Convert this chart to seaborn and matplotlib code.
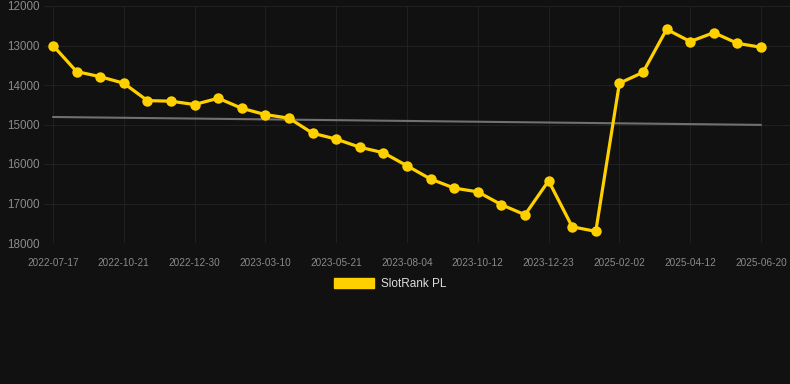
import matplotlib
matplotlib.use("Agg")
import matplotlib.pyplot as plt
import matplotlib.patches as mpatches
import seaborn as sns
import numpy as np
import pandas as pd

dates = [
    "2022-07-17", "2022-08-18", "2022-09-19", "2022-10-21", "2022-11-13",
    "2022-12-06", "2022-12-30", "2023-01-22", "2023-02-14", "2023-03-10",
    "2023-04-03", "2023-04-27", "2023-05-21", "2023-06-15", "2023-07-10",
    "2023-08-04", "2023-08-27", "2023-09-19", "2023-10-12", "2023-11-05",
    "2023-11-29", "2023-12-23", "2024-05-10", "2024-09-20", "2025-02-02",
    "2025-02-25", "2025-03-20", "2025-04-12", "2025-05-05", "2025-05-28",
    "2025-06-20",
]
rank = [
    13000, 13660, 13790, 13955, 14395, 14410, 14495, 14335, 14590, 14750,
    14840, 15220, 15370, 15575, 15715, 16045, 16380, 16610, 16705, 17030,
    17285, 16425, 17590, 17705, 13955, 13680, 12590, 12900, 12675, 12945,
    13045,
]
trend_ends = [14810, 15010]
y_ticks = [12000, 13000, 14000, 15000, 16000, 17000, 18000]
series_name = "SlotRank PL"

bg = "#111111"
gold = "#FFD000"

sns.set_theme(style="dark")
plt.rcParams["font.family"] = ["Liberation Sans", "DejaVu Sans"]

fig = plt.figure(figsize=(7.9, 3.84), dpi=100, facecolor=bg)
ax = fig.add_axes([44 / 790, (384 - 243) / 384, (790 - 44) / 790, (243 - 6) / 384])
ax.set_facecolor(bg)

df = pd.DataFrame({"idx": np.arange(len(rank)), "rank": rank})
tr = pd.DataFrame({"idx": [0, len(rank) - 1], "rank": trend_ends})

sns.lineplot(data=tr, x="idx", y="rank", ax=ax, color="#707070", linewidth=1.5, zorder=2)
sns.lineplot(data=df, x="idx", y="rank", ax=ax, color=gold, linewidth=2.3,
             marker="o", markersize=7.5, markeredgewidth=0, zorder=3)

ax.set_ylim(18000, 12000)
ax.set_xlim(-0.38, len(rank) - 1 + (790 - 761) / 23.6)
ax.set_yticks(y_ticks)
ax.set_yticklabels([str(v) for v in y_ticks], fontsize=8.4, color="#8a8a8a")
xt = list(range(0, len(dates), 3))
ax.set_xticks(xt)
ax.set_xticklabels([dates[i] for i in xt], fontsize=7.2, color="#8a8a8a")
ax.tick_params(axis="y", length=0, pad=3)
ax.tick_params(axis="x", length=6, width=0.8, color="#202020", pad=5)
ax.set_xlabel("")
ax.set_ylabel("")
ax.grid(True, color="#202020", linewidth=0.8)
for s in ax.spines.values():
    s.set_visible(False)

handle = mpatches.Patch(facecolor=gold, edgecolor=gold, label=series_name)
leg = fig.legend(handles=[handle], loc="center", bbox_to_anchor=(390 / 790, 1 - 284 / 384),
                 frameon=False, fontsize=8.5, handlelength=3.4, handleheight=0.95,
                 handletextpad=0.6, labelcolor="#dddddd")

fig.savefig("out.png", dpi=100, facecolor=bg)
